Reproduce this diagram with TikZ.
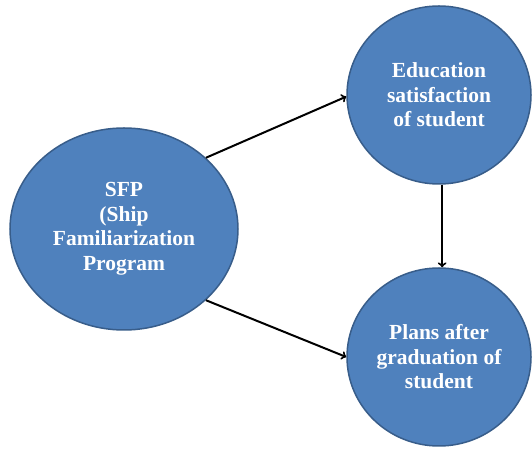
\documentclass[tikz,border=0pt]{standalone}
\usepackage{fontspec}
\setmainfont{Liberation Serif}
\usetikzlibrary{arrows,shapes.geometric}
\definecolor{ellfill}{HTML}{4F81BD}
\definecolor{elldraw}{HTML}{385D8A}
\tikzset{
  ellnode/.style = {ellipse, align=center, inner sep=0pt, text centered,
    font=\fontsize{21.5}{24.5}\selectfont\bfseries, white, fill=ellfill,
    draw=elldraw, line width=1.5pt},
  ell_big/.style = {ellnode, minimum width=228pt, minimum height=202pt},% programme
  ell_small/.style = {ellnode, minimum width=184pt, minimum height=178pt},% effets
  link/.style = {black, line width=2pt}
}
\begin{document}
\begin{tikzpicture}[->,>=to,x=1pt,y=1pt]
  \useasboundingbox (0,0) rectangle (532,449);
  \node [ell_big] (sfp) at (124,220) {SFP\\(Ship\\Familiarization\\Program};
  \node [ell_small] (edu) at (439,354) {Education\\satisfaction\\of student};
  \node [ell_small] (plans) at (439,92) {Plans after\\graduation of\\student};
  \draw [link] (sfp.41) -- (edu.181);
  \draw [link] (sfp.-41) -- (plans.west);
  \draw [link] (edu.-88) -- (plans.88);
\end{tikzpicture}
\end{document}
